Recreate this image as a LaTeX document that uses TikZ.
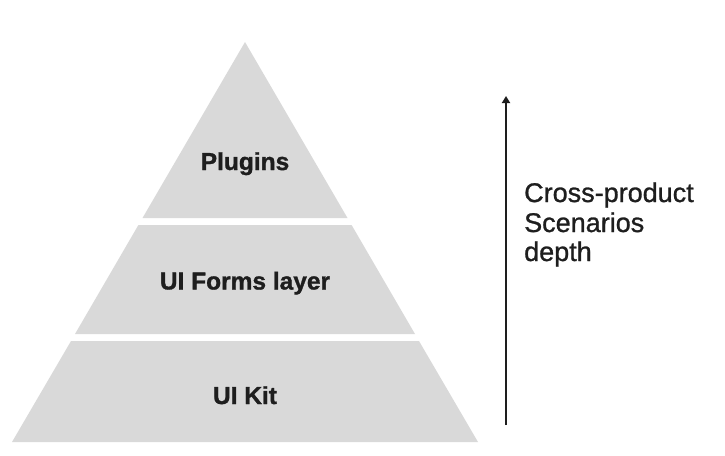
\documentclass[tikz,border=0pt]{standalone}
\usepackage{fontspec}
\setmainfont{Liberation Sans}
\newfontfamily\heavyfont{Liberation Sans Bold}[FakeBold=1.2]
\newfontfamily\mediumfont{Liberation Sans}[FakeBold=1.0]
\usetikzlibrary{arrows.meta}
\definecolor{layergray}{HTML}{D9D9D9}
\definecolor{ink}{HTML}{1E1E1E}
\begin{document}
\begin{tikzpicture}[x=1pt,y=-1pt,
  layer/.style={fill=layergray,draw=none},
  lbl/.style={font=\heavyfont\fontsize{24.5}{28}\selectfont,text=ink,inner sep=0pt,anchor=base},
  side/.style={font=\mediumfont\fontsize{27}{30}\selectfont,text=ink,inner sep=0pt,anchor=base west}]
\useasboundingbox (0,0) rectangle (725,455);
% pyramid layers
\path[layer] (245,42) -- (347.5,218) -- (142.5,218) -- cycle;
\path[layer] (138.4,225) -- (351.6,225) -- (415,334) -- (75,334) -- cycle;
\path[layer] (71,341) -- (419,341) -- (478,442) -- (12,442) -- cycle;
\node[lbl] (plugins) at (245,170) {Plugins};
\node[lbl] (forms) at (245,289.5) {UI Forms layer};
\node[lbl] (kit) at (245,404) {UI Kit};
% arrow
\coordinate (abot) at (506,425);
\coordinate (atop) at (506,96);
\draw[ink,line width=2.2pt,-{Triangle[length=7pt,width=8pt]}] (abot) -- (atop);
\node[side] (line1) at (524,202) {Cross-product};
\node[side] (line2) at (524,232) {Scenarios};
\node[side] (line3) at (524,261) {depth};
\end{tikzpicture}
\end{document}
